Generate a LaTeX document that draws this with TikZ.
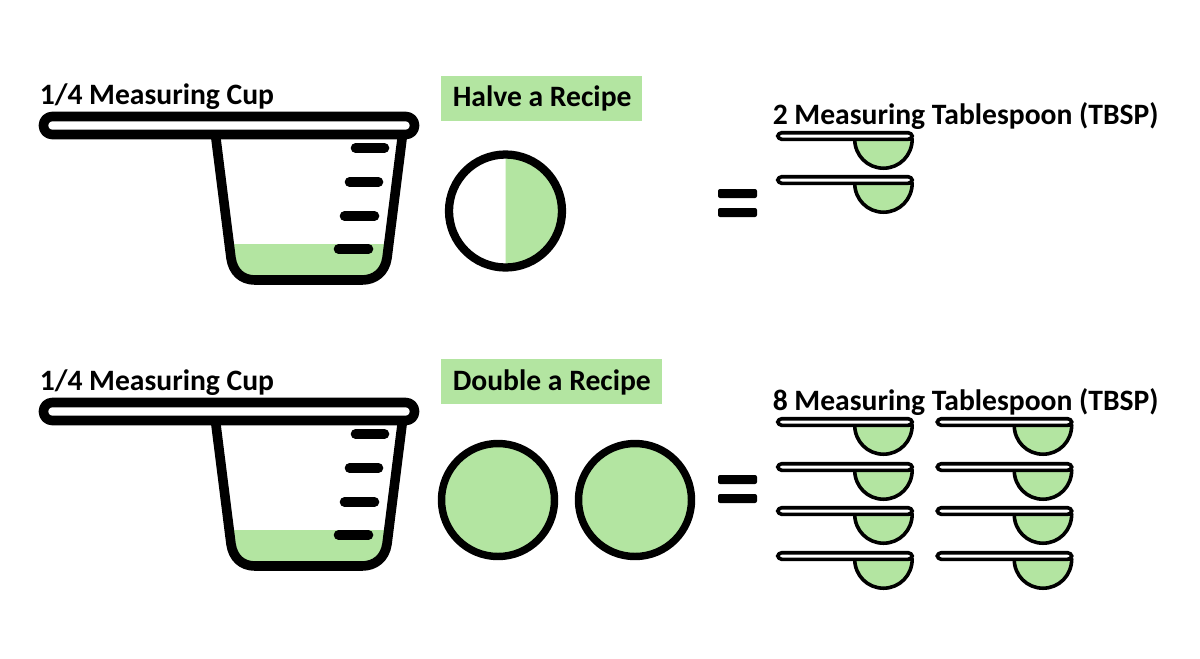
\documentclass[tikz,border=0pt]{standalone}
\usepackage{fontspec}
\setmainfont{Carlito}
\definecolor{leaf}{RGB}{179,229,161}
\tikzset{
  lbl/.style={inner sep=0pt,anchor=base west,font=\fontsize{22.2pt}{26pt}\selectfont\bfseries,text=black},
  tag/.style={fill=leaf,draw=none},
  thick line/.style={draw=black,line width=7.2pt,line cap=round,line join=round},
  ring/.style={draw=black,line width=5.6pt},
  spoon line/.style={draw=black,line width=2.7pt,line join=round},
}
\newcommand{\cupshape}[1]{%
  \begin{scope}[yshift={-#1*0.75pt}]
    \fill[leaf] (229,244) -- (391,244) -- (385,262) .. controls (383,274) and (374,280) .. (363,280) -- (253,280) .. controls (242,280) and (234,274) .. (232,262) -- cycle;
    \draw[thick line,line cap=butt] (215.5,135) -- (231,258) .. controls (233,272) and (242,280) .. (255,280) -- (362,280) .. controls (375,280) and (385,272) .. (387,258) -- (402.5,135);
    \draw[thick line,fill=white,rounded corners=6.5pt] (43.5,116.5) rectangle (414.5,134.5);
    \draw[thick line] (355.5,148) -- (384.5,148);
    \draw[thick line] (349.5,182) -- (378.5,182);
    \draw[thick line] (344.5,216) -- (374.5,216);
    \draw[thick line] (338.5,249) -- (368.5,249);
  \end{scope}}
\newcommand{\equalsign}[1]{%
  \begin{scope}[yshift={-#1*0.75pt}]
    \fill[black,rounded corners=1.5pt] (718,189) rectangle (757,198);
    \fill[black,rounded corners=1.5pt] (718,208) rectangle (757,217);
  \end{scope}}
\newcommand{\spoonshape}[2]{%
  \begin{scope}[xshift={#1*0.75pt},yshift={-#2*0.75pt}]
    \draw[spoon line,fill=leaf] (854.7,139) .. controls (854.7,155.5) and (867.5,168.2) .. (883.5,168.2) .. controls (899.5,168.2) and (912.2,155.5) .. (912.2,139) -- cycle;
    \draw[spoon line,fill=white,rounded corners=3pt] (777.7,132.7) rectangle (912.2,139.3);
  \end{scope}}
\begin{document}
\begin{tikzpicture}[x=0.75pt,y=-0.75pt]
\useasboundingbox (0,0) rectangle (1200,658);
\fill[white] (0,0) rectangle (1200,658);

\cupshape{0}
\cupshape{286}

\node[lbl] (cupa) at (39.5,104) {1/4 Measuring Cup};
\node[lbl] (cupb) at (39.5,390) {1/4 Measuring Cup};

\path[tag] (441,76) rectangle (642,121);
\node[lbl] (halve) at (452.5,106) {Halve a Recipe};
\path[tag] (441,359) rectangle (662,404);
\node[lbl] (double) at (452.5,390) {Double a Recipe};

\node[lbl] (tbspa) at (772.5,124) {2 Measuring Tablespoon (TBSP)};
\node[lbl] (tbspb) at (772.5,410) {8 Measuring Tablespoon (TBSP)};

% halved circle
\fill[leaf] (505.5,155) -- (505.5,267) .. controls (536,267) and (561.5,242) .. (561.5,211) .. controls (561.5,180) and (536,155) .. (505.5,155) -- cycle;
\draw[ring,line width=6.2pt] (505.5,211) circle[radius=56.5];

% full circles
\draw[ring,fill=leaf] (498,500) circle[radius=56.5];
\draw[ring,fill=leaf] (635,500) circle[radius=56.5];

\equalsign{0}
\equalsign{286}

\spoonshape{0}{0}
\spoonshape{0}{44}
\foreach \yy in {286,331,375,420}{
  \spoonshape{0}{\yy}
  \spoonshape{159.5}{\yy}
}
\end{tikzpicture}
\end{document}
